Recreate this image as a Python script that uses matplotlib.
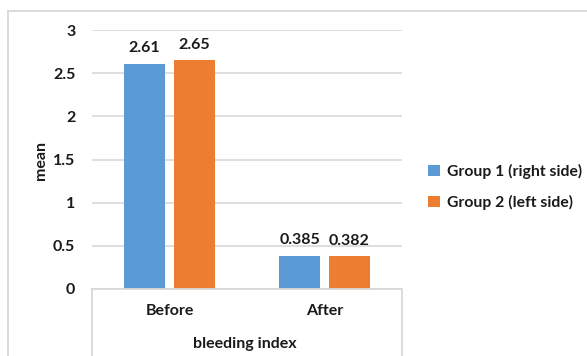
import matplotlib
matplotlib.use("Agg")
import matplotlib.pyplot as plt
from matplotlib.lines import Line2D
from matplotlib.patches import Patch
import numpy as np

categories = ["Before", "After"]
series_names = ["Group 1 (right side)", "Group 2 (left side)"]
group1 = [2.61, 0.385]
group2 = [2.65, 0.382]
value_labels = [["2.61", "0.385"], ["2.65", "0.382"]]
yticks = [0, 0.5, 1, 1.5, 2, 2.5, 3]
ytick_labels = ["0", "0.5", "1", "1.5", "2", "2.5", "3"]
axis_title = "bleeding index"
y_title = "mean"

BLUE = "#5B9BD5"
ORANGE = "#ED7D31"
GRID = "#D9D9D9"
TEXT = "#1A1A1A"
FS = 11.5

plt.rcParams["font.family"] = ["Lato", "DejaVu Sans"]

W, H = 587, 356
fig = plt.figure(figsize=(W / 100, H / 100), dpi=100)

def fx(px):
    return px / W

def fy(py):
    return 1 - py / H

ax = fig.add_axes([fx(92), fy(289), fx(402) - fx(92), fy(30) - fy(289)])
ax.set_xlim(-0.5, 1.5)
ax.set_ylim(0, 3)

x = np.arange(len(categories))
width = 0.27
off = 0.161
b1 = ax.bar(x - off, group1, width, color=BLUE, zorder=3)
b2 = ax.bar(x + off, group2, width, color=ORANGE, zorder=3)

for bars, labels in ((b1, value_labels[0]), (b2, value_labels[1])):
    for rect, lab in zip(bars, labels):
        ax.annotate(lab, (rect.get_x() + rect.get_width() / 2, rect.get_height()),
                    xytext=(0, 6), textcoords="offset points",
                    ha="center", va="bottom", fontsize=FS,
                    fontweight="bold", color=TEXT)

ax.set_yticks(yticks)
ax.set_yticklabels(ytick_labels, fontsize=FS, fontweight="bold", color=TEXT)
ax.tick_params(axis="y", length=0, pad=12)
ax.set_xticks([])
ax.yaxis.grid(True, color=GRID, linewidth=1.2, zorder=0)
for s in ax.spines.values():
    s.set_visible(False)

# category axis box below the plot area
line_kw = dict(color=GRID, linewidth=1.3, transform=fig.transFigure)
fig.add_artist(Line2D([fx(92), fx(92)], [fy(289), 0], **line_kw))
fig.add_artist(Line2D([fx(402), fx(402)], [fy(289), 0], **line_kw))
fig.add_artist(Line2D([fx(92), fx(402)], [fy(289), fy(289)], **line_kw))

# outer chart frame
fig.add_artist(Line2D([fx(8), fx(8)], [fy(11), 0], **line_kw))
fig.add_artist(Line2D([fx(8), 1], [fy(11), fy(11)], **line_kw))

for xi, cat in zip(x, categories):
    ax.annotate(cat, (xi, 0), xycoords=("data", "axes fraction"),
                xytext=(0, -22), textcoords="offset pixels",
                ha="center", va="center", fontsize=FS, fontweight="bold", color=TEXT)

fig.text(fx(245), fy(344), axis_title, ha="center", va="center",
         fontsize=FS, fontweight="bold", color=TEXT)
fig.text(fx(41), fy(160), y_title, ha="center", va="center", rotation=90,
         fontsize=FS, fontweight="bold", color=TEXT)

handles = [Patch(facecolor=BLUE), Patch(facecolor=ORANGE)]
fig.legend(handles, series_names, loc="center left",
           bbox_to_anchor=(fx(428), fy(187)), frameon=False,
           borderaxespad=0, borderpad=0,
           prop={"size": 11.3, "weight": "bold"}, handlelength=0.75, handleheight=0.75,
           handletextpad=0.45, labelspacing=1.0, labelcolor=TEXT)

fig.savefig("out.png", dpi=100)
